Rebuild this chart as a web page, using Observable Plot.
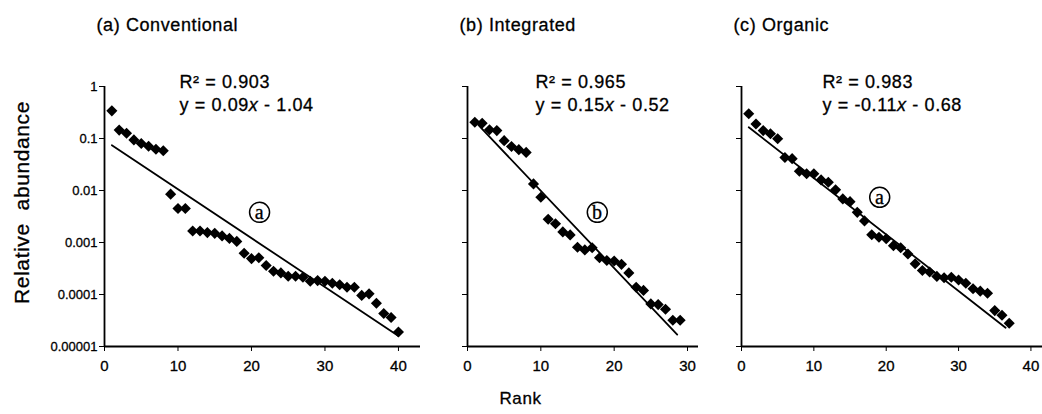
<!DOCTYPE html>
<html><head><meta charset="utf-8">
<script src="https://cdn.jsdelivr.net/npm/d3@7"></script>
<script src="https://cdn.jsdelivr.net/npm/@observablehq/plot@0.6"></script>
<style>
html,body{margin:0;padding:0;background:#fff;}
#chart{position:relative;width:1042px;height:414px;overflow:hidden;background:#fff;}
#chart svg{position:absolute;top:0;max-width:none;overflow:visible;background:transparent;}
#chart svg text{stroke:black;stroke-width:0.3px;}
#chart g[aria-label="text"] text{letter-spacing:0.6px;}
#chart g[aria-label^="y-axis"] text{font-size:13px;}
#chart g[aria-label^="x-axis"] text{font-size:15px;}
</style></head><body><div id="chart"></div>
<script>
// ---- data ----
const panelTitles = ["(a) Conventional", "(b) Integrated", "(c) Organic"];
const r2Labels = ["R² = 0.903", "R² = 0.965", "R² = 0.983"];
const eqSlopes = ["0.09", "0.15", "-0.11"];
const eqIntercepts = ["1.04", "0.52", "0.68"];
const groupLetters = ["a", "b", "a"];

const conventional = [0.34, 0.145, 0.126, 0.094, 0.080, 0.071, 0.062, 0.058, 0.0085, 0.0045,
  0.0045, 0.00166, 0.00166, 0.00155, 0.0015, 0.00134, 0.0012, 0.00105, 0.00062, 0.00049,
  0.00051, 0.00036, 0.00028, 0.00026, 0.000225, 0.000225, 0.000215, 0.00018, 0.000185, 0.00018,
  0.000165, 0.000154, 0.000138, 0.000138, 0.000096, 0.000103, 0.000068, 0.000043, 0.000036, 0.000019];
const integrated = [0.206, 0.197, 0.147, 0.142, 0.091, 0.070, 0.061, 0.054, 0.0134, 0.0074,
  0.0028, 0.0023, 0.0016, 0.0014, 0.00081, 0.00072, 0.00079, 0.00051, 0.00045, 0.00044,
  0.00038, 0.00026, 0.000138, 0.00012, 0.000066, 0.000064, 0.000052, 0.000032, 0.000032];
const organic = [0.30, 0.19, 0.142, 0.123, 0.099, 0.043, 0.041, 0.0235, 0.021, 0.021,
  0.016, 0.0144, 0.0103, 0.0069, 0.0061, 0.0038, 0.0026, 0.00141, 0.00126, 0.00118,
  0.00087, 0.00079, 0.0006, 0.00039, 0.00029, 0.00027, 0.000223, 0.00021, 0.000215, 0.00019,
  0.000165, 0.000129, 0.000116, 0.000106, 0.000049, 0.00004, 0.000028];

// fitted regression lines (end points)
const fitConventional = [{rank: 1, value: 0.074}, {rank: 40, value: 0.000016}];
const fitIntegrated = [{rank: 1.5, value: 0.18}, {rank: 28.6, value: 0.000017}];
const fitOrganic = [{rank: 1, value: 0.165}, {rank: 36.5, value: 0.000023}];

// circled group letter positions (rank, abundance)
const letterPositions = [{rank: 21.1, value: 0.0038}, {rank: 17.7, value: 0.0038}, {rank: 19.1, value: 0.0074}];

const xTicks = [0, 10, 20, 30, 40];
const yTicks = [1, 0.1, 0.01, 0.001, 0.0001, 0.00001];
const yTickLabels = ["1", "0.1", "0.01", "0.001", "0.0001", "0.00001"];
const xMax = [43, 31.5, 41.6];
const yAxisTitle = "Relative  abundance";
const xAxisTitle = "Rank";

// ---- drawing ----
const layout = [
  {left: 0, marginLeft: 104, width: 420, textDx: 75},
  {left: 420, marginLeft: 47, width: 278, textDx: 68},
  {left: 698, marginLeft: 43, width: 344, textDx: 81}
];
const series = [conventional, integrated, organic];
const fits = [fitConventional, fitIntegrated, fitOrganic];
const font = "Liberation Sans, Arial, Helvetica, sans-serif";
const chart = document.getElementById("chart");

series.forEach((vals, k) => {
  const L = layout[k];
  const data = vals.map((v, i) => ({rank: i + 1, value: v}));
  const eq = `y = ${eqSlopes[k]}x - ${eqIntercepts[k]}`;
  const marks = [
    Plot.ruleX([0], {y1: 0.00001, y2: 1, stroke: "black", strokeWidth: 1.8}),
    Plot.ruleY([0.00001], {stroke: "black", strokeWidth: 1.8}),
    Plot.line(fits[k], {x: "rank", y: "value", stroke: "black", strokeWidth: 1.8}),
    Plot.dot(data, {x: "rank", y: "value", symbol: "diamond2", r: 5, fill: "black", stroke: "none"}),
    Plot.dot([letterPositions[k]], {x: "rank", y: "value", r: 10, fill: "white", stroke: "black", strokeWidth: 1.5}),
    Plot.text([groupLetters[k]], {x: () => letterPositions[k].rank, y: () => letterPositions[k].value, text: d => d,
      fontFamily: "Liberation Serif, Times New Roman, serif", fontSize: 20, lineAnchor: "middle"}),
    Plot.text([panelTitles[k]], {frameAnchor: "top-left", text: d => d, textAnchor: "start", lineAnchor: "bottom",
      dx: -8, dy: -56, fontSize: 18}),
    Plot.text([r2Labels[k]], {frameAnchor: "top-left", text: d => d, textAnchor: "start", lineAnchor: "bottom",
      dx: L.textDx, dy: 1.5, fontSize: 18}),
    Plot.text([eq], {frameAnchor: "top-left", text: d => d, textAnchor: "start", lineAnchor: "bottom",
      dx: L.textDx, dy: 24, fontSize: 18})
  ];
  if (k === 0) {
    marks.push(Plot.text([yAxisTitle], {frameAnchor: "left", text: d => d, rotate: -90, textAnchor: "middle",
      lineAnchor: "middle", dx: -82, dy: -14, fontSize: 21}));
  }
  if (k === 1) {
    marks.push(Plot.text([xAxisTitle], {frameAnchor: "bottom-left", text: d => d, textAnchor: "middle",
      lineAnchor: "middle", dx: 53, dy: 52, fontSize: 17}));
  }
  const svg = Plot.plot({
    width: L.width,
    height: 414,
    marginTop: 86,
    marginBottom: 68,
    marginLeft: L.marginLeft,
    marginRight: 0,
    style: {fontFamily: font, fontSize: "14px", color: "black", background: "transparent", overflow: "visible"},
    x: {domain: [0, xMax[k]], ticks: xTicks.filter(t => t <= xMax[k]), tickSize: 5, tickPadding: 9,
      tickFormat: d => String(d), label: null},
    y: {type: "log", domain: [0.00001, 1], ticks: yTicks, tickSize: 5, tickPadding: 2,
      tickFormat: d => k === 0 ? yTickLabels[yTicks.indexOf(d)] : "", label: null},
    marks
  });
  svg.style.left = L.left + "px";
  // italic x in the regression equation
  svg.querySelectorAll("text").forEach(t => {
    if (t.textContent === eq) {
      t.textContent = "";
      const ns = "http://www.w3.org/2000/svg";
      const a = document.createElementNS(ns, "tspan"); a.textContent = `y = ${eqSlopes[k]}`;
      const b = document.createElementNS(ns, "tspan"); b.textContent = "x"; b.setAttribute("font-style", "italic");
      const c = document.createElementNS(ns, "tspan"); c.textContent = ` - ${eqIntercepts[k]}`;
      t.append(a, b, c);
    }
  });
  chart.appendChild(svg);
});
</script></body></html>
